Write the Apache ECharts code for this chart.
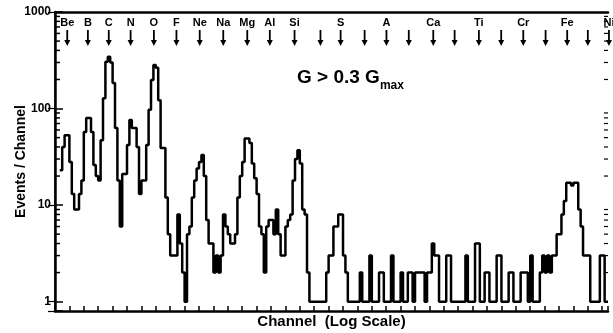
<!DOCTYPE html>
<html>
<head>
<meta charset="utf-8" />
<title>Events / Channel</title>
<script src="https://cdn.jsdelivr.net/npm/echarts@6/dist/echarts.min.js"></script>
<style>html,body{margin:0;background:#fff;}</style>
</head>
<body>
<div id="main" style="width:613px;height:333px;"></div>
<script>
// histogram: events per channel, channels are log-scale bins (6 per axis tick)
const firstChannel = 2;
const counts = [
  23, 40, 53, 53, 28, 13, 9, 9, 13, 18,          // 2-11
  57, 80, 80, 57, 26, 20, 18, 47, 128, 305,      // 12-21
  344, 300, 184, 63, 18, 6, 21, 21, 42, 76,      // 22-31
  63, 63, 40, 13, 18, 18, 42, 97, 197, 282,      // 32-41
  264, 122, 39, 39, 12, 5, 3, 3, 3, 8,           // 42-51
  4, 2, 1, 5, 6, 12, 18, 24, 28, 33,             // 52-61
  20, 7, 4, 4, 2, 3, 2, 3, 8, 6,                 // 62-71
  5, 4, 4, 5, 12, 20, 28, 49, 49, 44,            // 72-81
  27, 19, 13, 6, 5, 2, 6, 7, 7, 5,               // 82-91
  9, 5, 3, 3, 6, 7, 8, 18, 30, 37,               // 92-101
  27, 9, 8, 2, 1, 1, 1, 1, 1, 1,                 // 102-111
  1, 2, 3, 3, 6, 6, 8, 8, 3, 2,                  // 112-121
  1, 1, 1, 1, 1, 2, 1, 1, 1, 3,                  // 122-131
  1, 1, 1, 2, 2, 1, 1, 1, 3, 1,                  // 132-141
  1, 1, 2, 1, 1, 2, 2, 1, 2, 2,                  // 142-151
  2, 2, 1, 2, 2, 4, 3, 3, 1, 1,                  // 152-161
  1, 3, 3, 1, 1, 1, 1, 1, 1, 3,                  // 162-171
  1, 1, 1, 4, 4, 1, 1, 2, 2, 1,                  // 172-181
  1, 1, 3, 3, 1, 1, 1, 2, 2, 1,                  // 182-191
  1, 1, 2, 2, 2, 1, 3, 1, 1, 1,                  // 192-201
  2, 3, 2, 3, 2, 3, 3, 5, 5, 8,                  // 202-211
  11, 17, 17, 16, 17, 17, 9, 6, 3, 3,            // 212-221
  3, 1, 1, 1, 1, 3, 3, 1, 1                      // 222-230
];
const channelMax = 230.4;

// element markers along the top (empty name = unlabeled arrow)
const elementNames = ['Be', 'B', 'C', 'N', 'O', 'F', 'Ne', 'Na', 'Mg', 'Al', 'Si', '', 'S', '', 'A', '', 'Ca', '', 'Ti', '', 'Cr', '', 'Fe', '', 'Ni'];
const elementChannels = [5.1, 13.7, 22.4, 31.5, 41.2, 50.6, 60.3, 70.1, 80.1, 89.5, 99.8, 110.6, 119, 129, 138.1, 147.4, 157.6, 166.5, 176.6, 185.9, 195.1, 204.4, 213.4, 222, 230.8];

const yMin = 0.8, yMax = 1000;
const majorTicks = [1, 10, 100, 1000];
const minorTicks = [];
[1, 10, 100].forEach(d => { for (let k = 2; k <= 9; k++) minorTicks.push(k * d); });

const font = "'Liberation Sans', Arial, sans-serif";

const stepData = counts.map((c, i) => [firstChannel + i, c]);
stepData.push([channelMax, counts[counts.length - 1]]);

const chart = echarts.init(document.getElementById('main'));

chart.setOption({
  animation: false,
  grid: { left: 55, right: 5, top: 12, bottom: 22, outerBoundsMode: 'none' },
  xAxis: [
    {
      type: 'value', min: 0, max: channelMax, interval: 6,
      name: 'Channel  (Log Scale)', nameLocation: 'middle', nameGap: 3,
      nameTextStyle: { fontFamily: font, fontWeight: 'bold', fontSize: 15, color: '#000' },
      axisLine: { lineStyle: { color: '#000', width: 2.5 } },
      axisTick: { inside: true, length: 5, lineStyle: { color: '#000', width: 1.5 } },
      axisLabel: { show: false },
      splitLine: { show: false }
    },
    {
      type: 'value', position: 'top', min: 0, max: channelMax,
      axisLine: { lineStyle: { color: '#000', width: 2.5 } },
      axisTick: { show: false }, axisLabel: { show: false }, splitLine: { show: false }
    }
  ],
  yAxis: [
    {
      type: 'log', min: yMin, max: yMax, logBase: 10,
      name: 'Events / Channel', nameLocation: 'middle', nameGap: 27, nameMoveOverlap: false,
      nameTextStyle: { fontFamily: font, fontWeight: 'bold', fontSize: 14, color: '#000' },
      axisLine: { lineStyle: { color: '#000', width: 2.5 } },
      axisTick: { inside: true, length: 8, lineStyle: { color: '#000', width: 1.5 } },
      axisLabel: {
        margin: 4, fontFamily: font, fontWeight: 'bold', fontSize: 12, color: '#000',
        formatter: v => majorTicks.some(t => Math.abs(t - v) < 1e-6) ? String(Math.round(v)) : ''
      },
      splitLine: { show: false }
    },
    {
      type: 'log', position: 'right', min: yMin, max: yMax, logBase: 10,
      axisLine: { lineStyle: { color: '#000', width: 1.5 } },
      axisTick: { inside: true, length: 7, lineStyle: { color: '#000', width: 1.2 } },
      axisLabel: { show: false }, splitLine: { show: false }
    }
  ],
  graphic: [
    {
      type: 'text', left: 297, top: 68,
      style: {
        text: '{a|G > 0.3 G}{b|max}',
        rich: {
          a: { fontFamily: font, fontSize: 19, fontWeight: 'bold', fill: '#000', padding: [0, 0, 5, 0], verticalAlign: 'bottom' },
          b: { fontFamily: font, fontSize: 12, fontWeight: 'bold', fill: '#000', verticalAlign: 'bottom' }
        }
      }
    }
  ],
  series: [
    {
      type: 'line', step: 'end', symbol: 'none',
      data: stepData,
      lineStyle: { color: '#000', width: 2.5 }
    },
    {
      // minor log ticks on both vertical axes
      type: 'custom', silent: true,
      data: minorTicks.map(v => [0, v]),
      renderItem: function (params, api) {
        const cs = params.coordSys;
        const y = api.coord([0, api.value(1)])[1];
        return {
          type: 'group',
          children: [
            { type: 'line', shape: { x1: cs.x, y1: y, x2: cs.x + 5, y2: y }, style: { stroke: '#000', lineWidth: 1.5 } },
            { type: 'line', shape: { x1: cs.x + cs.width, y1: y, x2: cs.x + cs.width - 4, y2: y }, style: { stroke: '#000', lineWidth: 1.2 } }
          ]
        };
      }
    },
    {
      // element arrows along the top
      type: 'custom', silent: true, clip: false,
      data: elementChannels.map((c, i) => [c, i]),
      renderItem: function (params, api) {
        const p = api.coord([api.value(0), yMax]);
        const x = p[0], top = p[1];
        const name = elementNames[params.dataIndex];
        const children = [
          { type: 'line', shape: { x1: x, y1: top + 18, x2: x, y2: top + 29 }, style: { stroke: '#000', lineWidth: 1.8 } },
          { type: 'polygon', shape: { points: [[x - 3, top + 28], [x + 3, top + 28], [x, top + 34]] }, style: { fill: '#000' } }
        ];
        if (name) {
          children.push({
            type: 'text', x: x, y: top + 11,
            style: { text: name, fontFamily: font, fontWeight: 'bold', fontSize: 11, fill: '#000', align: 'center', verticalAlign: 'middle' }
          });
        }
        return { type: 'group', children: children };
      }
    }
  ]
});
</script>
</body>
</html>
